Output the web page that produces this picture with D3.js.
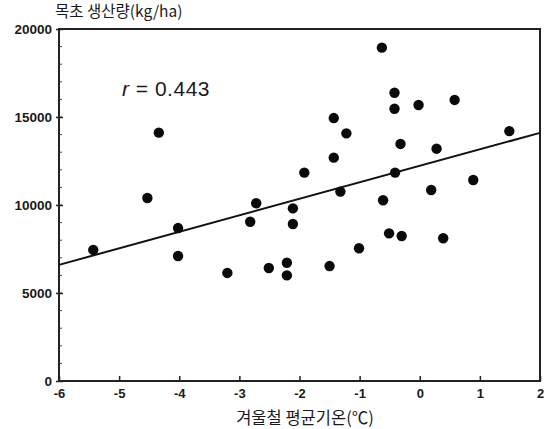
<!DOCTYPE html>
<html>
<head>
<meta charset="utf-8">
<script src="https://cdn.jsdelivr.net/npm/d3@7"></script>
<style>
  body { margin: 0; background: #fff; }
  text { font-family: "Liberation Sans", Arial, sans-serif; fill: #1a1a1a; }
  .kr { font-family: "Noto Sans CJK KR", "Noto Sans", sans-serif; }
</style>
</head>
<body>
<svg id="chart" width="556" height="429"></svg>
<script>
// winter mean temperature (°C) vs forage yield (kg/ha)
const temps = [-5.43, -4.53, -4.34, -4.02, -4.02, -3.2, -2.72, -2.82, -2.51, -2.21, -2.21, -2.11,
  -2.11, -1.92, -0.63, -0.42, -0.42, -0.02, 0.58, -1.43, -1.22, 1.49, -0.32, 0.28, -1.43, -0.41,
  0.89, -1.32, 0.19, -0.61, -0.51, -0.3, 0.39, -1.01, -1.5];
const yields = [7450, 10400, 14110, 8690, 7100, 6140, 10100, 9050, 6420, 6720, 6000, 9810,
  8920, 11840, 18940, 16380, 15470, 15680, 15970, 14940, 14070, 14200, 13470, 13200, 12690, 11840,
  11420, 10760, 10850, 10270, 8390, 8240, 8110, 7540, 6530];
const fitLine = [[-6, 6600], [2, 14100]];
const xTicks = [-6, -5, -4, -3, -2, -1, 0, 1, 2];
const yTicks = [0, 5000, 10000, 15000, 20000];

const svg = d3.select("#chart");
const margin = { top: 29, right: 16, bottom: 48, left: 59 };
const width = 556 - margin.left - margin.right,
      height = 429 - margin.top - margin.bottom;
const g = svg.append("g").attr("transform", `translate(${margin.left},${margin.top})`);

const x = d3.scaleLinear().domain([-6, 2]).range([0, width]);
const y = d3.scaleLinear().domain([0, 20000]).range([height, 0]);

// frame
g.append("rect").attr("width", width).attr("height", height)
  .attr("fill", "none").attr("stroke", "#222").attr("stroke-width", 2);

// y minor ticks
g.append("g").selectAll("line")
  .data(d3.range(1000, 20000, 1000))
  .enter().append("line")
  .attr("x1", 0).attr("x2", 3)
  .attr("y1", d => y(d)).attr("y2", d => y(d))
  .attr("stroke", "#444").attr("stroke-width", 1);

// y axis
const yAxis = g.append("g")
  .call(d3.axisLeft(y).tickValues(yTicks).tickFormat(d => String(d))
    .tickSizeInner(-4).tickSizeOuter(0).tickPadding(7));
yAxis.select(".domain").remove();
yAxis.selectAll(".tick line").attr("x1", -3).attr("stroke", "#222").attr("stroke-width", 1.5);
yAxis.selectAll(".tick text")
  .style("font-size", "13.5px").style("font-weight", "bold").attr("fill", "#1a1a1a");

// x axis
const xAxis = g.append("g").attr("transform", `translate(0,${height})`)
  .call(d3.axisBottom(x).tickValues(xTicks).tickFormat(d => String(d))
    .tickSizeInner(-5).tickSizeOuter(0).tickPadding(8));
xAxis.select(".domain").remove();
xAxis.selectAll(".tick line").attr("stroke", "#222").attr("stroke-width", 1.5);
xAxis.selectAll(".tick text")
  .style("font-size", "13px").style("font-weight", "bold").attr("fill", "#1a1a1a");

// regression line
g.append("line")
  .attr("x1", x(fitLine[0][0])).attr("y1", y(fitLine[0][1]))
  .attr("x2", x(fitLine[1][0])).attr("y2", y(fitLine[1][1]))
  .attr("stroke", "#111").attr("stroke-width", 2);

// points
g.selectAll("circle")
  .data(temps.map((t, i) => [t, yields[i]]))
  .enter().append("circle")
  .attr("cx", d => x(d[0]))
  .attr("cy", d => y(d[1]))
  .attr("r", 5.2)
  .attr("fill", "#0a0a0a");

// r label
const rt = svg.append("text").attr("x", 122).attr("y", 96)
  .style("font-size", "21px").style("letter-spacing", "0.5px")
  .style("font-family", "'Liberation Sans', Arial, sans-serif");
rt.append("tspan").style("font-style", "italic").text("r");
rt.append("tspan").text(" = 0.443");

// axis titles
svg.append("text").attr("class", "kr")
  .attr("x", 55).attr("y", 17)
  .style("font-size", "15.5px").attr("fill", "#333")
  .text("목초 생산량(kg/ha)");

svg.append("text").attr("class", "kr")
  .attr("x", 305).attr("y", 424)
  .attr("text-anchor", "middle")
  .style("font-size", "16.5px").attr("fill", "#333")
  .text("겨울철 평균기온(℃)");
</script>
</body>
</html>
